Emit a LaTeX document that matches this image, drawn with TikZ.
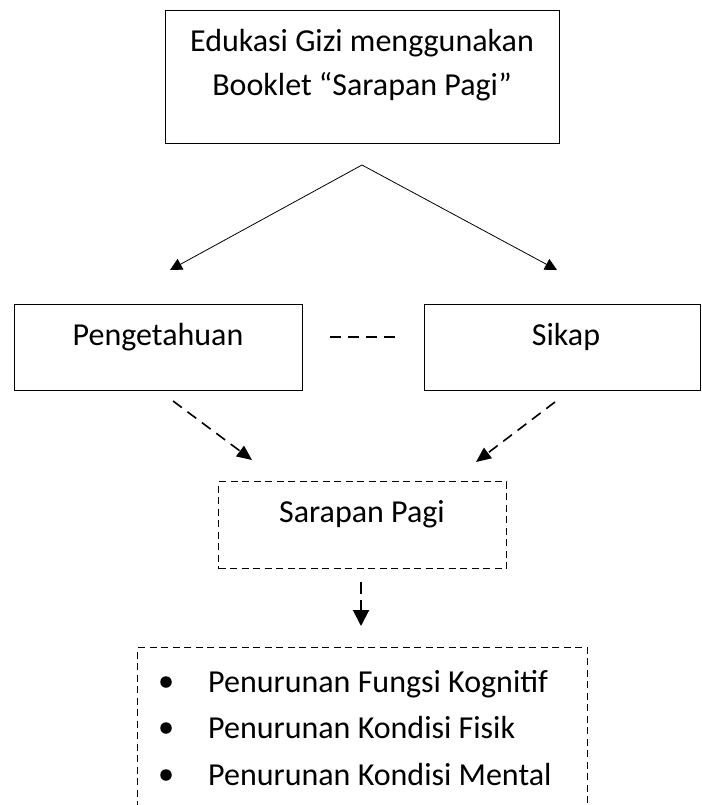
\documentclass[tikz,border=0pt]{standalone}
\usepackage{fontspec}
\setmainfont{Carlito}
\usetikzlibrary{arrows.meta}
\begin{document}
\begin{tikzpicture}[x=1pt,y=-1pt,
  solidbox/.style={draw, line width=1.3pt, inner sep=0pt, anchor=north west},
  dashbox/.style={draw, line width=1.1pt, dash pattern=on 7pt off 4.5pt, inner sep=0pt, anchor=north west},
  lbl/.style={font=\fontsize{32}{38}\selectfont, anchor=base, inner sep=0pt},
  item/.style={font=\fontsize{32}{38}\selectfont, anchor=base west, inner sep=0pt},
  dot/.style={circle, fill, inner sep=0pt, minimum size=11.5pt},
  thinarrow/.style={line width=0.8pt, -{Triangle[length=12pt, width=12pt]}},
  dasharrow/.style={line width=1.6pt, dash pattern=on 11pt off 7pt, -{Triangle[length=15pt, width=13pt]}},
  downarrow/.style={line width=2pt, dash pattern=on 12pt off 6pt, -{Triangle[length=16pt, width=16pt]}},
  linkline/.style={line width=1.4pt, dash pattern=on 11pt off 7pt}
]
\useasboundingbox (0,0) rectangle (701,805);
\fill[white] (0,0) rectangle (701,805);

% boxes
\node[solidbox, minimum width=394pt, minimum height=133pt] (topbox) at (165,10) {};
\node[solidbox, minimum width=288pt, minimum height=86pt] (pengbox) at (14,304) {};
\node[solidbox, minimum width=276pt, minimum height=86pt] (sikapbox) at (424,304) {};
\node[dashbox, minimum width=288pt, minimum height=87pt] (sarbox) at (218,481) {};
\begin{scope}
  \clip (0,0) rectangle (701,805);
  \node[dashbox, minimum width=450pt, minimum height=200pt] (listbox) at (137,647) {};
\end{scope}

% texts
\node[lbl] (t1) at (362,52) {Edukasi Gizi menggunakan};
\node[lbl] (t2) at (362,96) {Booklet “Sarapan Pagi”};
\node[lbl] (tpeng) at (158,345) {Pengetahuan};
\node[lbl] (tsikap) at (566,345) {Sikap};
\node[lbl] (tsar) at (362,522) {Sarapan Pagi};

\node[dot] (b1) at (166,682) {};
\node[dot] (b2) at (166,728) {};
\node[dot] (b3) at (166,775) {};
\node[item] (i1) at (208,692) {Penurunan Fungsi Kognitif};
\node[item] (i2) at (208,738) {Penurunan Kondisi Fisik};
\node[item] (i3) at (208,785) {Penurunan Kondisi Mental};

% connector points
\coordinate (apex) at (362,165);
\coordinate (tipL) at (170,270);
\coordinate (tipR) at (557,270);
\coordinate (pengOut) at (173,401);
\coordinate (sarInL) at (252,460);
\coordinate (sikOut) at (555,402);
\coordinate (sarInR) at (476,462);
\coordinate (linkA) at (330,337);
\coordinate (linkB) at (397,337);
\coordinate (sarOut) at (361,582);
\coordinate (listIn) at (361,626);

\draw[thinarrow] (apex) -- (tipL);
\draw[thinarrow] (apex) -- (tipR);
\draw[dasharrow] (pengOut) -- (sarInL);
\draw[dasharrow] (sikOut) -- (sarInR);
\draw[linkline] (linkA) -- (linkB);
\draw[downarrow] (sarOut) -- (listIn);
\end{tikzpicture}
\end{document}
